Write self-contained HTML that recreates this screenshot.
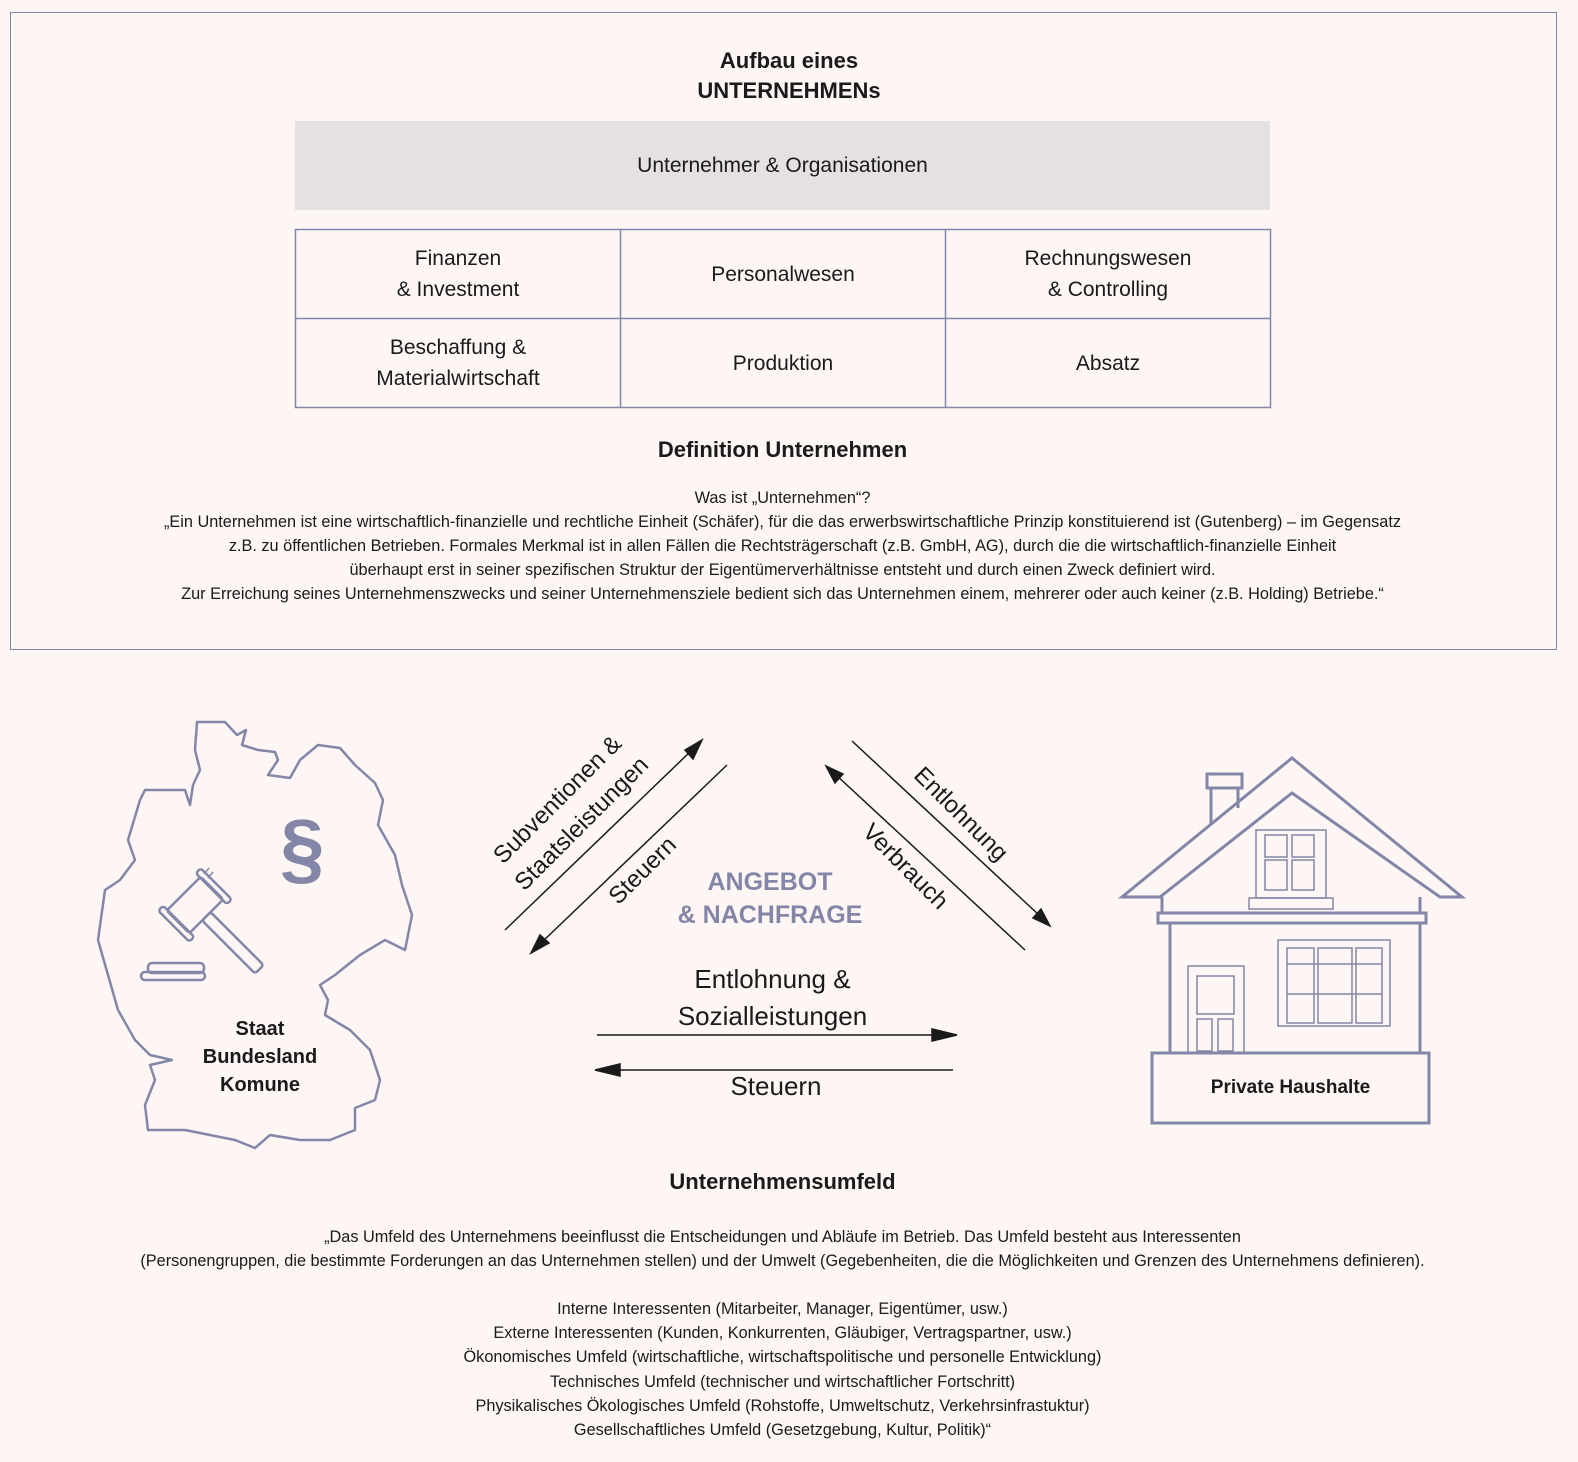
<!DOCTYPE html>
<html><head><meta charset="utf-8"><style>
body{margin:0;background:#fdf6f5;width:1578px;height:1462px;position:relative;font-family:"Liberation Sans",sans-serif;color:#1a1a1a;overflow:hidden}
.a{position:absolute}
.c{text-align:center}
.cell{position:absolute;display:flex;align-items:center;justify-content:center;text-align:center;font-size:21px;line-height:31px}
</style></head><body>
<div class="a" style="left:10px;top:12px;width:1545px;height:636px;border:1.5px solid #8486a8"></div>
<div class="a c" style="left:0;width:1578px;top:46px;font-size:22px;font-weight:bold;line-height:30px">Aufbau eines<br>UNTERNEHMENs</div>
<div class="cell" style="left:295px;top:121px;width:975px;height:89px;background:#e5e0e3">Unternehmer &amp; Organisationen</div>
<svg class="a" style="left:0;top:0" width="1578" height="1462">
<g fill="none" stroke="#8486a8" stroke-width="1.5">
<rect x="295.5" y="229.5" width="975" height="178"/>
<line x1="295" y1="318.5" x2="1270" y2="318.5"/>
<line x1="620.5" y1="229" x2="620.5" y2="407"/>
<line x1="945.5" y1="229" x2="945.5" y2="407"/>
</g>
<g stroke="#1a1a1a" stroke-width="1.5" fill="#1a1a1a">
<line x1="505" y1="930" x2="692" y2="750"/><polygon points="702,740 685,750 693,759"/>
<line x1="727" y1="765" x2="541" y2="943"/><polygon points="531,953 540,935 549,943"/>
<line x1="1025" y1="950" x2="835" y2="774"/><polygon points="826,766 843,774 835,783"/>
<line x1="852" y1="741" x2="1040" y2="916"/><polygon points="1050,926 1033,918 1041,909"/>
<line x1="597" y1="1035" x2="935" y2="1035"/><polygon points="957,1035 932,1029 932,1041"/>
<line x1="953" y1="1070" x2="617" y2="1070"/><polygon points="595,1070 620,1064 620,1076"/>
</g>
<g fill="none" stroke="#8486a8" stroke-width="2.5" stroke-linejoin="round">
<path d="M197,722 L225,722 237,735 246,730 242,745 258,750 275,752 278,760 268,775 290,778 300,760 318,745 340,748 355,765 375,783 383,800 378,825 395,855 402,885 412,915 405,950 385,940 360,955 335,975 320,985 328,1000 325,1015 350,1030 370,1050 380,1080 375,1100 355,1108 355,1130 330,1140 300,1140 270,1135 255,1148 235,1140 210,1135 185,1130 148,1130 145,1105 155,1080 150,1065 172,1060 150,1055 135,1040 118,1010 108,975 98,940 105,890 120,880 135,860 128,840 140,800 145,790 165,790 185,790 190,805 193,785 200,770 195,750 Z"/>
<g transform="translate(195,905) rotate(-45)"><rect x="-24" y="-16" width="48" height="32" rx="3"/><rect x="-30" y="-22" width="7" height="44" rx="3"/><rect x="23" y="-22" width="7" height="44" rx="3"/><rect x="-6" y="16" width="12" height="75" rx="3"/></g>
<line x1="213" y1="872" x2="208" y2="878" stroke-width="1.5"/><line x1="209" y1="868" x2="204" y2="874" stroke-width="1.5"/>
<rect x="148" y="963" width="56" height="10" rx="4"/><rect x="141" y="972" width="64" height="8" rx="4"/>
</g>
<g fill="none" stroke="#8486a8" stroke-width="3">
<rect x="1207" y="774" width="35" height="14"/>
<line x1="1211" y1="788" x2="1211" y2="825"/><line x1="1238" y1="788" x2="1238" y2="808"/>
<polygon points="1122,897 1292,758 1462,897 1440,897 1292,793 1160,897"/>
<line x1="1162" y1="897" x2="1162" y2="913"/><line x1="1420" y1="897" x2="1420" y2="913"/>
<rect x="1158" y="913" width="268" height="10"/>
<line x1="1170" y1="923" x2="1170" y2="1053"/><line x1="1420" y1="923" x2="1420" y2="1053"/>
<rect x="1152" y="1053" width="277" height="70"/>
</g>
<g fill="none" stroke="#8486a8" stroke-width="1.5">
<rect x="1256" y="830" width="70" height="68"/><rect x="1265" y="835" width="22" height="22"/><rect x="1292" y="835" width="22" height="22"/><rect x="1265" y="860" width="22" height="30"/><rect x="1292" y="860" width="22" height="30"/>
<rect x="1249" y="898" width="84" height="11"/>
<rect x="1188" y="966" width="56" height="87"/><rect x="1197" y="976" width="37" height="38"/><rect x="1197" y="1019" width="15" height="32"/><rect x="1218" y="1019" width="15" height="32"/>
<rect x="1278" y="940" width="112" height="86"/><rect x="1287" y="948" width="27" height="75"/><rect x="1318" y="948" width="34" height="75"/><rect x="1356" y="948" width="26" height="75"/>
<line x1="1287" y1="964" x2="1382" y2="964"/><line x1="1287" y1="994" x2="1382" y2="994"/>
</g>
</svg>
<div class="cell" style="left:296px;top:230px;width:324px;height:88px">Finanzen<br>&amp; Investment</div>
<div class="cell" style="left:621px;top:230px;width:324px;height:88px">Personalwesen</div>
<div class="cell" style="left:946px;top:230px;width:324px;height:88px">Rechnungswesen<br>&amp; Controlling</div>
<div class="cell" style="left:296px;top:319px;width:324px;height:88px">Beschaffung &amp;<br>Materialwirtschaft</div>
<div class="cell" style="left:621px;top:319px;width:324px;height:88px">Produktion</div>
<div class="cell" style="left:946px;top:319px;width:324px;height:88px">Absatz</div>
<div class="a c" style="left:0;width:1565px;top:437px;font-size:22px;font-weight:bold">Definition Unternehmen</div>
<div class="a c" style="left:0;width:1565px;top:486px;font-size:16.3px;line-height:24px">Was ist „Unternehmen“?<br>„Ein Unternehmen ist eine wirtschaftlich-finanzielle und rechtliche Einheit (Schäfer), für die das erwerbswirtschaftliche Prinzip konstituierend ist (Gutenberg) – im Gegensatz<br>z.B. zu öffentlichen Betrieben. Formales Merkmal ist in allen Fällen die Rechtsträgerschaft (z.B. GmbH, AG), durch die die wirtschaftlich-finanzielle Einheit<br>überhaupt erst in seiner spezifischen Struktur der Eigentümerverhältnisse entsteht und durch einen Zweck definiert wird.<br>Zur Erreichung seines Unternehmenszwecks und seiner Unternehmensziele bedient sich das Unternehmen einem, mehrerer oder auch keiner (z.B. Holding) Betriebe.“</div>
<div class="a" style="left:280px;top:803px;font-size:80px;font-weight:bold;color:#8486a8;line-height:90px">§</div>
<div class="a c" style="left:180px;width:160px;top:1015px;font-size:20px;font-weight:bold;line-height:28px">Staat<br>Bundesland<br>Komune</div>
<div class="a c" style="left:1152px;width:277px;top:1077px;font-size:19px;font-weight:bold">Private Haushalte</div>
<div class="a c" style="left:470px;width:200px;top:778px;font-size:24px;line-height:34px;transform:rotate(-45deg)">Subventionen &amp;<br>Staatsleistungen</div>
<div class="a c" style="left:583px;width:120px;top:857px;font-size:24px;transform:rotate(-45deg)">Steuern</div>
<div class="a c" style="left:900px;width:120px;top:800px;font-size:24px;transform:rotate(45deg)">Entlohnung</div>
<div class="a c" style="left:845px;width:120px;top:853px;font-size:24px;transform:rotate(45deg)">Verbrauch</div>
<div class="a c" style="left:620px;width:300px;top:866px;font-size:25px;font-weight:bold;color:#8486a8;line-height:33px">ANGEBOT<br>&amp; NACHFRAGE</div>
<div class="a c" style="left:620px;width:305px;top:961px;font-size:26px;line-height:37px">Entlohnung &amp;<br>Sozialleistungen</div>
<div class="a c" style="left:626px;width:300px;top:1071px;font-size:26px">Steuern</div>
<div class="a c" style="left:0;width:1565px;top:1169px;font-size:22px;font-weight:bold">Unternehmensumfeld</div>
<div class="a c" style="left:0;width:1565px;top:1225px;font-size:16.3px;line-height:24px">„Das Umfeld des Unternehmens beeinflusst die Entscheidungen und Abläufe im Betrieb. Das Umfeld besteht aus Interessenten<br>(Personengruppen, die bestimmte Forderungen an das Unternehmen stellen) und der Umwelt (Gegebenheiten, die die Möglichkeiten und Grenzen des Unternehmens definieren).</div>
<div class="a c" style="left:0;width:1565px;top:1297px;font-size:16.3px;line-height:24.2px">Interne Interessenten (Mitarbeiter, Manager, Eigentümer, usw.)<br>Externe Interessenten (Kunden, Konkurrenten, Gläubiger, Vertragspartner, usw.)<br>Ökonomisches Umfeld (wirtschaftliche, wirtschaftspolitische und personelle Entwicklung)<br>Technisches Umfeld (technischer und wirtschaftlicher Fortschritt)<br>Physikalisches Ökologisches Umfeld (Rohstoffe, Umweltschutz, Verkehrsinfrastuktur)<br>Gesellschaftliches Umfeld (Gesetzgebung, Kultur, Politik)“</div>
</body></html>
